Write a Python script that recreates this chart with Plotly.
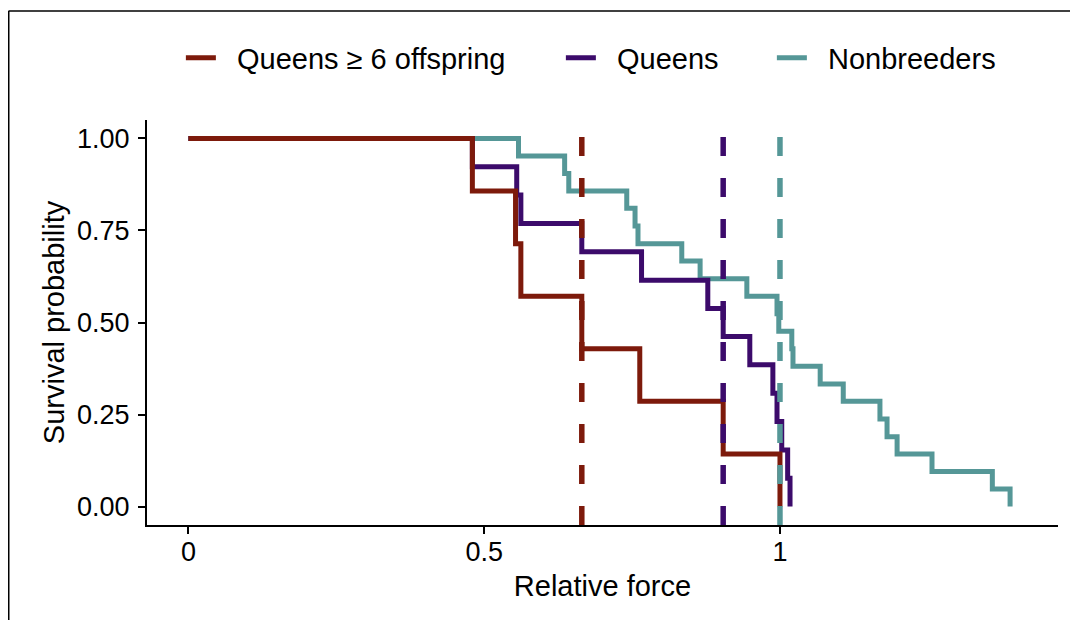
import plotly.graph_objects as go

# ---- data ----
groups = ["Queens ≥ 6 offspring", "Queens", "Nonbreeders"]

red_times = [0, 0.480, 0.553, 0.562, 0.665, 0.763, 0.904, 1.000]
red_surv = [1.0, 0.857, 0.714, 0.571, 0.429, 0.286, 0.143, 0.0]

purple_times = [0, 0.480, 0.555, 0.562, 0.665, 0.766, 0.878, 0.904, 0.949,
                0.988, 0.995, 1.003, 1.013, 1.017]
purple_surv = [1.0, 0.923, 0.846, 0.769, 0.692, 0.615, 0.538, 0.462, 0.385,
               0.308, 0.231, 0.154, 0.077, 0.0]

teal_times = [0, 0.558, 0.636, 0.643, 0.741, 0.755, 0.760, 0.834, 0.865,
              0.944, 0.995, 0.998, 1.020, 1.022, 1.068, 1.107, 1.169, 1.181,
              1.198, 1.257, 1.359, 1.389]
teal_surv = [1.0, 0.952, 0.905, 0.857, 0.810, 0.762, 0.714, 0.667, 0.619,
             0.571, 0.524, 0.476, 0.429, 0.381, 0.333, 0.286, 0.238, 0.190,
             0.143, 0.095, 0.048, 0.0]

medians = [0.665, 0.904, 1.000]

x_ticks = [0, 0.5, 1]
x_ticklabels = ["0", "0.5", "1"]
y_ticks = [0, 0.25, 0.5, 0.75, 1.0]
y_ticklabels = ["0.00", "0.25", "0.50", "0.75", "1.00"]

colors = ["#7d1a0b", "#3c0b6b", "#559797"]

# ---- layout geometry (page has an 8px body margin) ----
OFF = 8
W, H = 1078 - OFF, 620 - OFF
L, R, T, B = 147 - OFF, 20, 120 - OFF, 95
PW, PH = W - L - R, H - T - B


def px_x(p):
    """screenshot x pixel -> paper x"""
    return (p - OFF - L) / PW


def px_y(p):
    """screenshot y pixel -> paper y"""
    return (H - B - (p - OFF)) / PH


fig = go.Figure()

series = [(red_times, red_surv), (purple_times, purple_surv), (teal_times, teal_surv)]
legend_names = ["legend", "legend2", "legend3"]

# draw order: teal, purple, red (red on top)
for idx in [2, 1, 0]:
    t, s = series[idx]
    fig.add_trace(go.Scatter(
        x=t, y=s, mode="lines", line=dict(color=colors[idx], width=5, shape="hv"),
        name="\u00a0\u00a0" + groups[idx], legend=legend_names[idx], showlegend=True,
    ))

# median vertical dashed lines
for idx in [0, 1, 2]:
    fig.add_shape(type="line", xref="x", yref="paper", x0=medians[idx], x1=medians[idx],
                  y0=0, y1=1, line=dict(color=colors[idx], width=5.5, dash="19px,22px"))

# outer frame (top / left / right)
fig.add_shape(type="line", xref="paper", yref="paper", x0=px_x(8.5), x1=px_x(1078),
              y0=px_y(11), y1=px_y(11), line=dict(color="black", width=1.5))
fig.add_shape(type="line", xref="paper", yref="paper", x0=px_x(8.75), x1=px_x(8.75),
              y0=px_y(11), y1=px_y(625), line=dict(color="black", width=1.5))
fig.add_shape(type="line", xref="paper", yref="paper", x0=px_x(1077), x1=px_x(1077),
              y0=px_y(11), y1=px_y(625), line=dict(color="black", width=1.5))

font_family = "Liberation Sans, Arial, sans-serif"
leg_common = dict(orientation="h", yanchor="middle", xanchor="left", bgcolor="rgba(0,0,0,0)",
                  font=dict(size=29, color="black", family=font_family), y=px_y(58))
text_starts = [239, 619, 830]
NBSP_W = 2 * 0.278 * 29

layout_legends = {}
for i, name in enumerate(legend_names):
    layout_legends[name] = dict(leg_common, x=px_x(text_starts[i] - 42 - NBSP_W))

fig.update_layout(
    width=W, height=H,
    margin=dict(l=L, r=R, t=T, b=B, autoexpand=False),
    paper_bgcolor="white", plot_bgcolor="white",
    font=dict(family=font_family, color="black"),
    xaxis=dict(range=[-0.07, 1.47], tickvals=x_ticks, ticktext=x_ticklabels,
               showline=True, linecolor="black", linewidth=2, ticks="outside",
               ticklen=7, tickwidth=2, tickcolor="black", showgrid=False, zeroline=False,
               tickfont=dict(size=27, color="black"), ticklabelstandoff=-5,
               title=dict(text="Relative force", font=dict(size=29, color="black"), standoff=9)),
    yaxis=dict(range=[-0.05, 1.05], tickvals=y_ticks, ticktext=y_ticklabels,
               showline=True, linecolor="black", linewidth=2, ticks="outside",
               ticklen=7, tickwidth=2, tickcolor="black", showgrid=False, zeroline=False,
               tickfont=dict(size=27, color="black"), ticklabelstandoff=3,
               title=dict(text="Survival probability", font=dict(size=29, color="black"), standoff=4)),
    **layout_legends,
)

fig.write_html("out.html")
